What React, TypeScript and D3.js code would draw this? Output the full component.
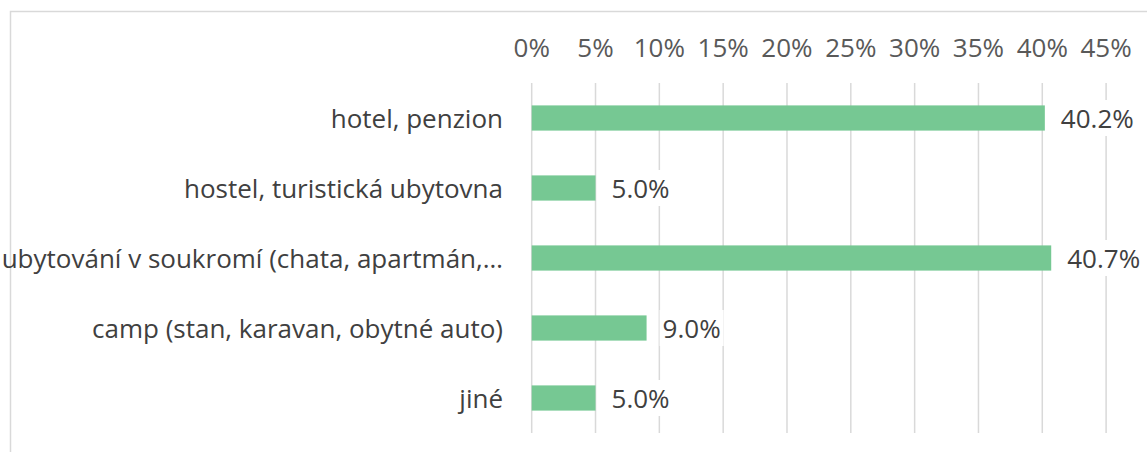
import React, { useEffect, useRef } from 'react';
import * as d3 from 'd3';

const categories = [
  'hotel, penzion',
  'hostel, turistická ubytovna',
  'ubytování v soukromí (chata, apartmán,…',
  'camp (stan, karavan, obytné auto)',
  'jiné',
];
const values = [40.2, 5.0, 40.7, 9.0, 5.0];
const ticks = [0, 5, 10, 15, 20, 25, 30, 35, 40, 45];

const font = '"Open Sans", sans-serif';

export default function App() {
  const ref = useRef<SVGSVGElement>(null);

  useEffect(() => {
    const width = 1147, height = 452;
    const svg = d3.select(ref.current);
    svg.selectAll('*').remove();
    svg.attr('width', width).attr('height', height);

    // outer frame (cropped at right/bottom)
    svg.append('rect')
      .attr('x', 10.5).attr('y', 11.5)
      .attr('width', 1200).attr('height', 500)
      .attr('fill', '#fff')
      .attr('stroke', '#d9d9d9').attr('stroke-width', 1.5);

    const x = d3.scaleLinear().domain([0, 45]).range([531.7, 1106.1]);
    const y = d3.scaleBand().domain(categories).range([83, 433]).paddingInner(0.64).paddingOuter(0.32);

    // gridlines
    svg.append('g').selectAll('line')
      .data(ticks).enter().append('line')
      .attr('x1', d => x(d)).attr('x2', d => x(d))
      .attr('y1', 83).attr('y2', 433)
      .attr('stroke', '#d9d9d9').attr('stroke-width', 1.5);

    // tick labels on top
    svg.append('g').selectAll('text')
      .data(ticks).enter().append('text')
      .attr('x', d => x(d)).attr('y', 47)
      .attr('text-anchor', 'middle').attr('dominant-baseline', 'central')
      .style('font-family', font).style('font-size', '26px')
      .attr('fill', '#595959')
      .text(d => d + '%');

    // bars
    svg.append('g').selectAll('rect')
      .data(values).enter().append('rect')
      .attr('x', x(0)).attr('y', (d, i) => y(categories[i])!)
      .attr('width', d => x(d) - x(0)).attr('height', y.bandwidth())
      .attr('fill', '#76c893');

    // category labels
    svg.append('g').selectAll('text')
      .data(categories).enter().append('text')
      .attr('x', 503).attr('y', d => y(d)! + y.bandwidth() / 2)
      .attr('text-anchor', 'end').attr('dominant-baseline', 'central')
      .style('font-family', font).style('font-size', '26px')
      .attr('fill', '#404040')
      .text(d => d);

    // value labels with white backing
    const vl = svg.append('g').selectAll('g')
      .data(values).enter().append('g')
      .attr('transform', (d, i) => `translate(${x(d) + 16},${y(categories[i])! + y.bandwidth() / 2})`);
    const txt = vl.append('text')
      .attr('dominant-baseline', 'central')
      .style('font-family', font).style('font-size', '26px')
      .attr('fill', '#404040')
      .text(d => d.toFixed(1) + '%');
    txt.each(function () {
      const bb = (this as SVGTextElement).getBBox();
      d3.select((this as SVGTextElement).parentNode as SVGGElement)
        .insert('rect', 'text')
        .attr('x', bb.x - 3).attr('y', bb.y)
        .attr('width', bb.width + 6).attr('height', bb.height)
        .attr('fill', '#fff');
    });
  }, []);

  return (
    <svg ref={ref} style={{ position: 'absolute', left: 0, top: 0 }}></svg>
  );
}
